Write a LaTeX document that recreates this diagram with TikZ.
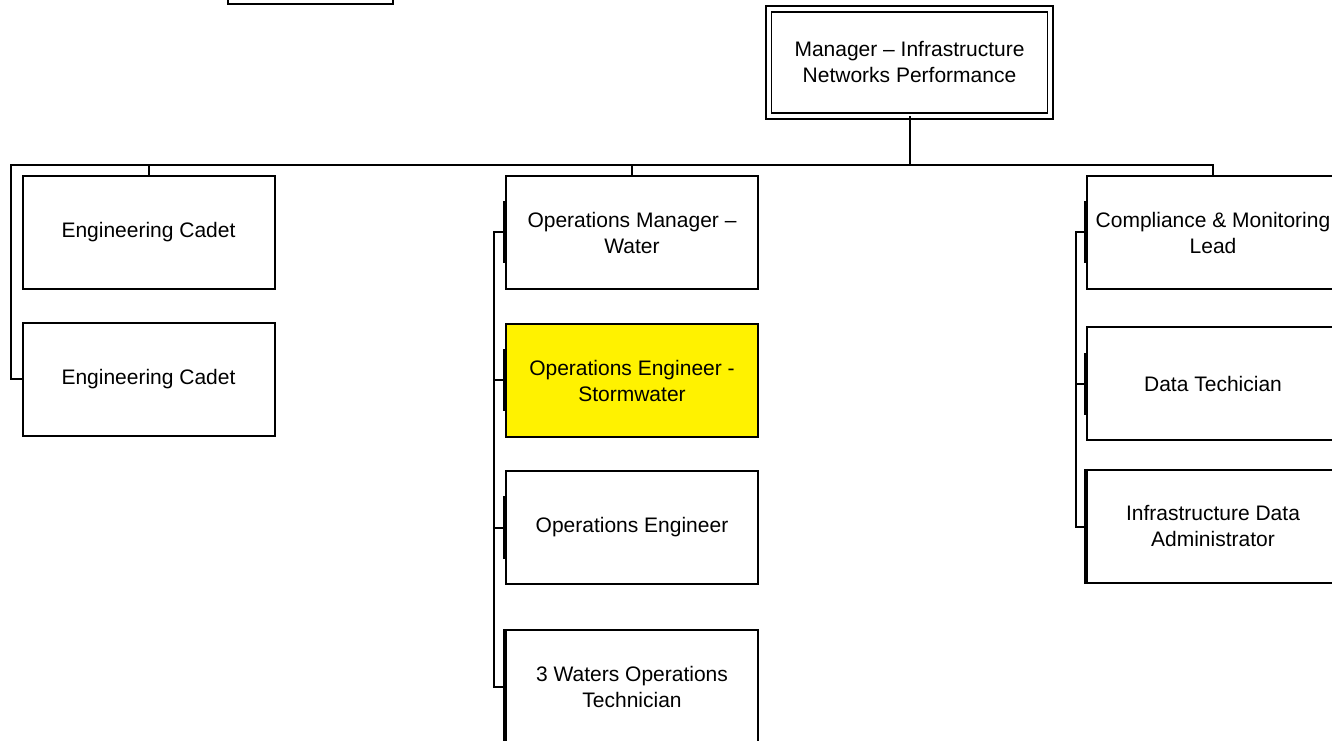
\documentclass[tikz,border=0pt]{standalone}
\usepackage{fontspec}
\setmainfont{Liberation Sans}
\begin{document}
\begin{tikzpicture}[x=0.75pt,y=-0.75pt,
  box/.style={draw=black, line width=1.5pt, fill=white, minimum width=189pt,
    minimum height=84.75pt, inner sep=0pt, align=center,
    font=\fontsize{15.75}{19.5}\selectfont},
  mgrbox/.style={box, line width=1.2pt, double, double distance=3pt,
    minimum width=211pt, minimum height=80.25pt},
  conn/.style={line width=1.5pt, line cap=rect},
  thk/.style={line width=3pt}
]
\useasboundingbox (0,0) rectangle (1332,741);
% partial box at top
\node[box, minimum width=123.75pt] (top) at (310.5,-52.5) {};
% manager
\node[mgrbox] (mgr) at (909.5,62.5) {Manager -- Infrastructure\\Networks Performance};
% left column
\node[box] (cad1) at (148.5,232.5) {Engineering Cadet};
\node[box] (cad2) at (148.5,379.5) {Engineering Cadet};
% middle column
\node[box] (opm) at (632,232.5) {Operations Manager --\\Water};
\node[box, fill=yellow] (ops) at (632,380.5) {Operations Engineer -\\Stormwater};
\node[box] (ope) at (632,527.5) {Operations Engineer};
\node[box] (tec) at (632,686.5) {3 Waters Operations\\Technician};
% right column
\node[box] (cml) at (1213,232.5) {Compliance \& Monitoring\\Lead};
\node[box] (dtc) at (1213,384) {Data Techician};
\node[box] (ida) at (1213,526.5) {Infrastructure Data\\Administrator};
% bus
\coordinate (busL) at (11,165);
\coordinate (busR) at (1213,165);
\coordinate (busM) at (909.5,165);
\draw[conn] (mgr.south) -- (busM);
\draw[conn] (busL) -- (busR);
\draw[conn] (busR) -- (cml.north);
\draw[conn] (148.5,165) -- (cad1.north);
\draw[conn] (632,165) -- (opm.north);
% left spine
\draw[conn] (busL) |- (cad2.west);
% middle spine
\coordinate (ms1) at (494,232.5);
\coordinate (ms4) at (494,686.5);
\draw[conn] (ms1) -- (ms4);
\draw[conn] (ms1) -- (opm.west);
\draw[conn] (494,380.5) -- (ops.west);
\draw[conn] (494,527.5) -- (ope.west);
\draw[conn] (ms4) -- (tec.west);
% right spine
\coordinate (rs1) at (1076,232.5);
\coordinate (rs3) at (1076,526.5);
\draw[conn] (rs1) -- (rs3);
\draw[conn] (rs1) -- (cml.west);
\draw[conn] (1076,384) -- (dtc.west);
\draw[conn] (rs3) -- (ida.west);
% thick segments on left edges
\draw[thk] ([yshift=23.25pt]opm.west) -- ([yshift=-23.25pt]opm.west);
\draw[thk] ([yshift=23.25pt]ops.west) -- ([yshift=-23.25pt]ops.west);
\draw[thk] ([yshift=23.25pt]ope.west) -- ([yshift=-23.25pt]ope.west);
\draw[thk] (tec.north west) -- (tec.south west);
\draw[thk] ([yshift=23.25pt]cml.west) -- ([yshift=-23.25pt]cml.west);
\draw[thk] ([yshift=23.25pt]dtc.west) -- ([yshift=-23.25pt]dtc.west);
\draw[thk] (ida.north west) -- (ida.south west);
\end{tikzpicture}
\end{document}
